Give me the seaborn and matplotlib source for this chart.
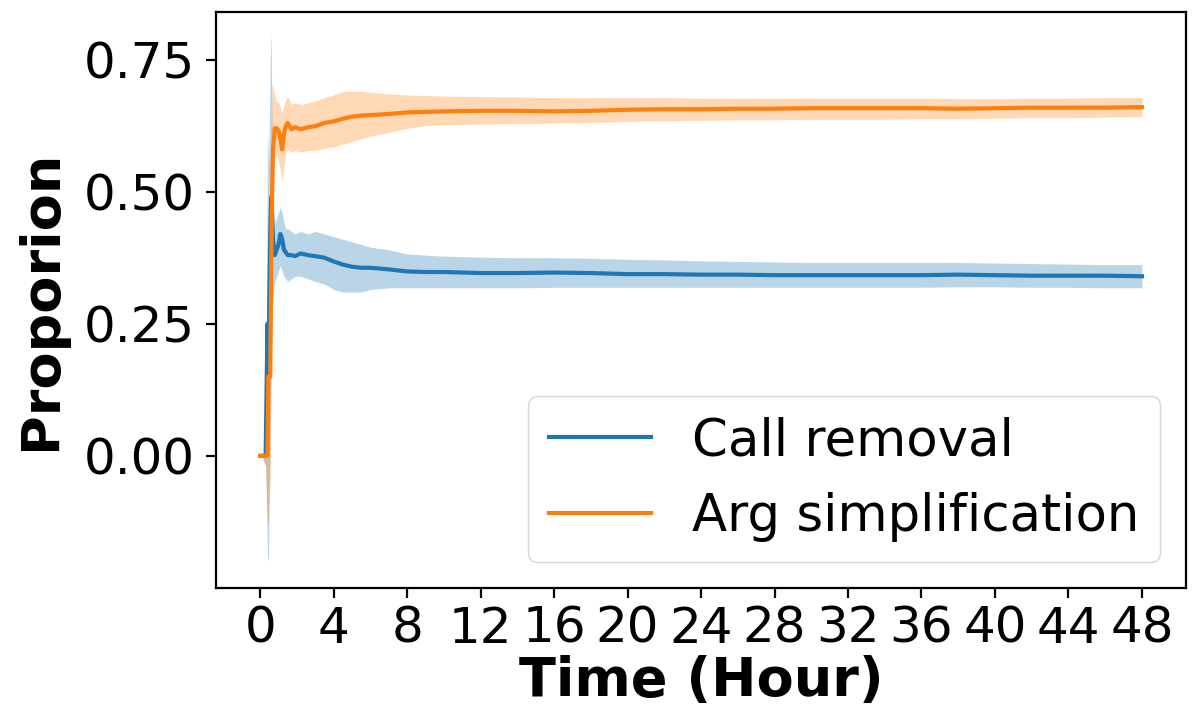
import matplotlib
matplotlib.use("Agg")
import matplotlib.pyplot as plt
import numpy as np
import pandas as pd
import seaborn as sns

# DATA
hours = [0, 0.1, 0.2, 0.3, 0.4, 0.45, 0.5, 0.55, 0.6, 0.65, 0.7, 0.8, 0.9,
         1.0, 1.1, 1.2, 1.3, 1.4, 1.5, 1.7, 1.9, 2.2, 2.6, 3.0, 3.5, 4.0,
         4.5, 5.0, 5.5, 6.0, 7.0, 8.0, 9.0, 10, 12, 14, 16, 18, 20, 22, 24,
         26, 28, 30, 32, 34, 36, 38, 40, 42, 44, 46, 48]

call_mean = [0, 0, 0, 0, 0.25, 0.16, 0.30, 0.42, 0.49, 0.45, 0.41, 0.38, 0.39,
             0.40, 0.42, 0.41, 0.39, 0.385, 0.38, 0.38, 0.378, 0.383, 0.38, 0.378,
             0.375, 0.368, 0.362, 0.358, 0.356, 0.356, 0.353, 0.349, 0.348, 0.348,
             0.346, 0.346, 0.347, 0.346, 0.344, 0.344, 0.343, 0.343, 0.342, 0.342,
             0.342, 0.342, 0.342, 0.343, 0.342, 0.341, 0.341, 0.341, 0.340]
call_low = [0, 0, -0.01, -0.02, -0.19, -0.20, -0.05, 0.05, 0.18, 0.25, 0.30, 0.33, 0.34,
            0.35, 0.36, 0.35, 0.34, 0.335, 0.33, 0.335, 0.34, 0.34, 0.335, 0.33,
            0.325, 0.315, 0.31, 0.31, 0.31, 0.315, 0.318, 0.318, 0.318, 0.318,
            0.318, 0.318, 0.319, 0.319, 0.319, 0.319, 0.319, 0.319, 0.319, 0.319,
            0.319, 0.319, 0.319, 0.320, 0.320, 0.319, 0.319, 0.318, 0.318]
call_high = [0, 0, 0.01, 0.03, 0.62, 0.55, 0.62, 0.75, 0.80, 0.62, 0.50, 0.44, 0.45,
             0.46, 0.47, 0.46, 0.44, 0.43, 0.43, 0.425, 0.42, 0.425, 0.42, 0.425,
             0.42, 0.415, 0.41, 0.405, 0.40, 0.395, 0.39, 0.382, 0.38, 0.378,
             0.376, 0.375, 0.375, 0.374, 0.372, 0.371, 0.369, 0.368, 0.367, 0.366,
             0.366, 0.366, 0.366, 0.366, 0.365, 0.364, 0.363, 0.362, 0.362]

arg_mean = [0, 0, 0, 0, 0, 0.15, 0.15, 0.15, 0.35, 0.50, 0.58, 0.62, 0.62,
            0.615, 0.60, 0.58, 0.61, 0.625, 0.63, 0.618, 0.622, 0.618, 0.622, 0.624,
            0.63, 0.633, 0.638, 0.642, 0.644, 0.645, 0.647, 0.65, 0.651, 0.652,
            0.653, 0.653, 0.652, 0.653, 0.655, 0.656, 0.656, 0.657, 0.657, 0.658,
            0.658, 0.658, 0.658, 0.657, 0.658, 0.659, 0.659, 0.659, 0.660]
arg_low = [0, 0, -0.01, -0.02, -0.13, -0.12, -0.08, -0.05, 0.10, 0.30, 0.45, 0.56, 0.57,
           0.56, 0.54, 0.52, 0.55, 0.575, 0.58, 0.575, 0.578, 0.575, 0.578, 0.578,
           0.582, 0.585, 0.59, 0.595, 0.60, 0.605, 0.612, 0.62, 0.625, 0.627,
           0.628, 0.629, 0.63, 0.631, 0.633, 0.634, 0.635, 0.636, 0.636, 0.637,
           0.637, 0.637, 0.638, 0.638, 0.639, 0.64, 0.64, 0.641, 0.642]
arg_high = [0, 0, 0.01, 0.02, 0.15, 0.40, 0.40, 0.45, 0.62, 0.70, 0.70, 0.68, 0.67,
            0.67, 0.66, 0.65, 0.665, 0.675, 0.68, 0.665, 0.668, 0.665, 0.668, 0.672,
            0.678, 0.683, 0.69, 0.69, 0.69, 0.688, 0.685, 0.683, 0.682, 0.681,
            0.68, 0.679, 0.678, 0.678, 0.678, 0.678, 0.677, 0.677, 0.677, 0.677,
            0.677, 0.677, 0.677, 0.676, 0.676, 0.677, 0.677, 0.678, 0.678]

series_names = ["Call removal", "Arg simplification"]
colors = ["#1f77b4", "#ff7f0e"]

df = pd.concat([
    pd.DataFrame({"hour": hours, "value": call_mean, "low": call_low,
                  "high": call_high, "kind": series_names[0]}),
    pd.DataFrame({"hour": hours, "value": arg_mean, "low": arg_low,
                  "high": arg_high, "kind": series_names[1]}),
])

fig = plt.figure(figsize=(12.03, 7.23), dpi=100)
ax = fig.add_axes([0.1796, 0.1867, 0.8063, 0.7967])

sns.lineplot(data=df, x="hour", y="value", hue="kind", hue_order=series_names,
             palette=colors, linewidth=3, errorbar=None, ax=ax)

# shaded bands
for name, col in zip(series_names, colors):
    part = df[df["kind"] == name]
    ax.fill_between(part["hour"], part["low"], part["high"],
                    color=col, alpha=0.3, linewidth=0)

ax.set_xticks(np.arange(0, 49, 4))
ax.set_yticks([0, 0.25, 0.5, 0.75])
ax.set_xlim(-2.4, 50.4)
ax.set_ylim(-0.25, 0.84)
ax.tick_params(labelsize=36, length=7, width=1.6)
ax.tick_params(axis="y", pad=8)
ax.tick_params(axis="x", pad=5)
for s in ax.spines.values():
    s.set_linewidth(1.6)

ax.set_xlabel("Time (Hour)", fontsize=39, fontweight="bold", labelpad=2)
ax.set_ylabel("Proporion", fontsize=39, fontweight="bold", labelpad=12)

leg = ax.legend(loc="lower right", fontsize=37)
for line in leg.get_lines():
    line.set_linewidth(3)

fig.savefig("out.png", dpi=100)
